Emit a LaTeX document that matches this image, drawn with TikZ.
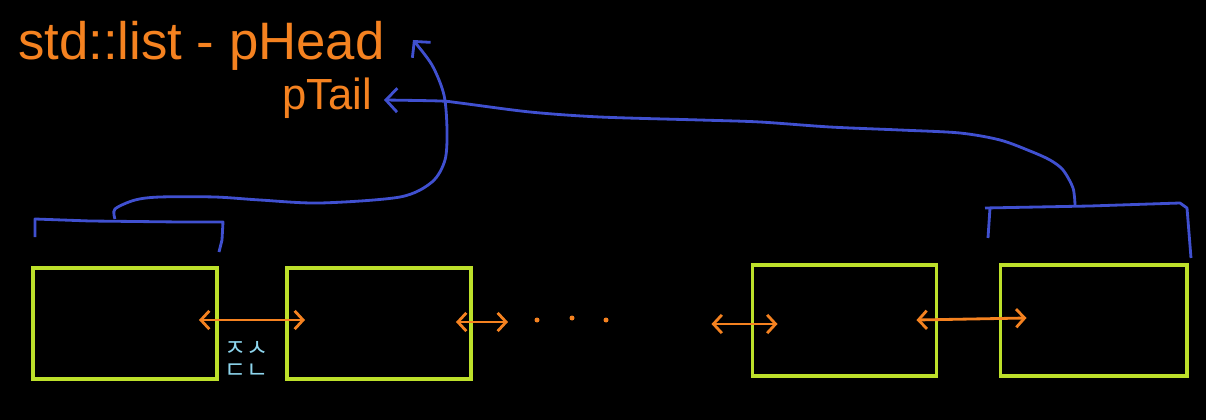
\documentclass[tikz,border=0pt]{standalone}
\usepackage{fontspec}
\setmainfont{Liberation Sans}
\newfontfamily\krfont{Noto Sans CJK KR}
\usetikzlibrary{positioning,arrows.meta,calc}
\definecolor{nodegreen}{HTML}{BDE02A}
\definecolor{linkorange}{HTML}{F58220}
\definecolor{ptrblue}{HTML}{4050D0}
\definecolor{notecyan}{HTML}{8ED6EE}

\begin{document}
\begin{tikzpicture}[x=0.025cm,y=-0.025cm,node distance=1.65cm,
    box/.style={draw=nodegreen,line width=2.8pt,minimum width=4.6cm,
      minimum height=2.775cm,inner sep=0pt},
    link/.style={{Straight Barb[length=6pt,width=13pt]}-{Straight Barb[length=6pt,width=13pt]},
      linkorange,line width=2pt},
    ptr/.style={-{Straight Barb[length=8pt,width=17pt]},ptrblue,line width=2pt},
    brace/.style={ptrblue,line width=2pt,line join=round},
    lbl/.style={text=linkorange,inner sep=0pt,anchor=base west}]
    \fill[black] (0,0) rectangle (1206,420);
    % list nodes
    \node[box](n1) at (125,323.5) {};
    \node[box,right=of n1](n2) {};
    \node[box](n3) at (844.5,320.5) {};
    \node[box,right=1.5cm of n3,minimum width=4.65cm](n4) {};
    % labels
    \node[lbl,font=\fontsize{37.5}{40}\selectfont](phead) at (18,60) {std::list - pHead};
    \node[lbl,font=\fontsize{31}{34}\selectfont](ptail) at (282,110) {pTail};
    \node[text=notecyan,font=\krfont\fontsize{17}{16}\selectfont,align=center,inner sep=0pt](note)
      at (246,360) {ㅈㅅ\\ㄷㄴ};
    % prev/next links
    \coordinate (l1a) at ($(n1.east)+(-20,-3.5)$);
    \coordinate (l1b) at ($(n2.west)+(20,-3.5)$);
    \coordinate (l2a) at ($(n2.east)+(-17,-1.5)$);
    \coordinate (l2b) at ($(n2.east)+(35,-1.5)$);
    \coordinate (l3a) at ($(n3.west)+(-39,3.5)$);
    \coordinate (l3b) at ($(n3.west)+(27,3.5)$);
    \coordinate (l4a) at ($(n3.east)+(-22,-0.5)$);
    \coordinate (l4b) at ($(n4.west)+(28,-2.5)$);
    \draw[link](l1a)--(l1b);
    \draw[link](l2a)--(l2b);
    \draw[link](l3a)--(l3b);
    \draw[link](l4a)--(l4b);
    \foreach \x/\y in {537/320,572/318,606/320}
      \fill[linkorange] (\x,\y) circle (2.5);
    % head / tail brackets
    \draw[brace] (35,237) -- (35,219) -- (90,221) -- (180,222) -- (223,222) -- (222,240) -- (219,252);
    \draw[brace] (988,238) -- (990,208);
    \draw[brace] (985,208) -- (1090,206) -- (1180,203) -- (1187,208) -- (1191,258);
    \coordinate (hstem) at (115,219);
    \coordinate (tstem) at (1075,205);
    \coordinate (headtip) at (413,40);
    \coordinate (tailtip) at (384,100);
    \draw[ptr] plot[smooth,tension=0.5] coordinates {(hstem) (115,209) (135,200) (160,197)
      (215,197) (260,200) (320,203) (400,197) (432,182) (445,160) (447,130) (444,95)
      (432,65) (headtip)};
    \draw[ptr] plot[smooth,tension=0.5] coordinates {(tstem) (1073,188) (1063,170)
      (1050,160) (1030,151) (1000,140) (960,133) (900,130) (830,127) (760,122) (700,120)
      (600,117) (530,112) (460,103) (440,101) (tailtip)};
  \end{tikzpicture}
\end{document}
